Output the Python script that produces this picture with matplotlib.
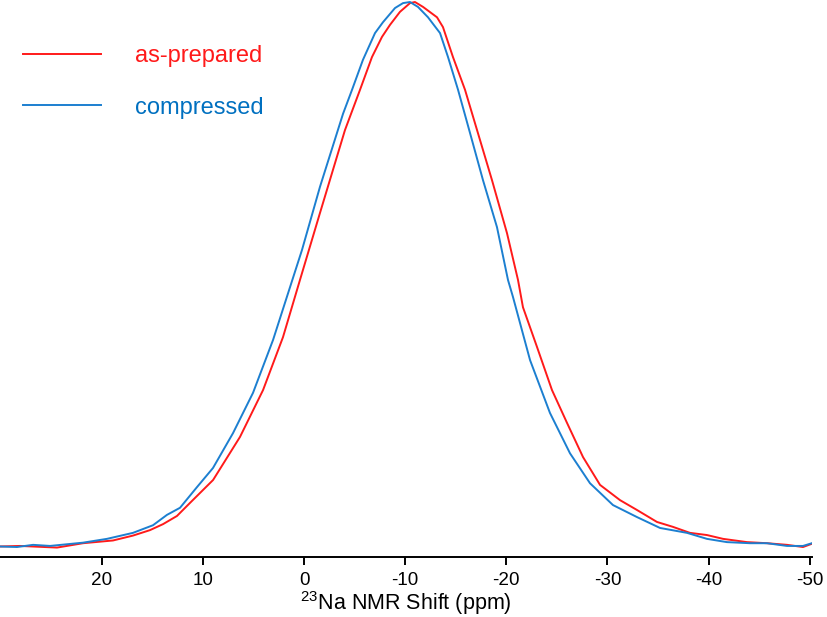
import numpy as np
import matplotlib
matplotlib.use("Agg")
import matplotlib.pyplot as plt

plt.rcParams['font.family'] = ['Liberation Sans', 'DejaVu Sans']
plt.rcParams['mathtext.fontset'] = 'custom'
plt.rcParams['mathtext.rm'] = 'Liberation Sans'
plt.rcParams['mathtext.default'] = 'regular'

# espectros (ppm, intensidade normalizada)
ppm_prep = [30.06, 28.08, 24.42, 21.85, 18.89, 16.91, 15.23, 13.94, 12.56, 11.27,
            8.99, 6.33, 4.05, 2.08, 0.40, -1.58, -4.05, -5.54, -6.72, -7.71,
            -8.50, -9.49, -10.48, -10.97, -11.77, -13.15, -13.74, -14.73, -15.92, -17.40,
            -18.59, -20.07, -21.16, -21.65, -23.04, -24.52, -26.00, -27.59, -29.27, -31.25,
            -32.92, -34.90, -36.48, -38.16, -39.84, -41.43, -43.80, -45.78, -47.76, -49.34,
            -50.22]
int_prep = [0.001, 0.002, -0.001, 0.007, 0.012, 0.021, 0.031, 0.042, 0.057, 0.081,
            0.123, 0.202, 0.288, 0.385, 0.490, 0.613, 0.765, 0.839, 0.899, 0.936,
            0.958, 0.982, 0.998, 1.000, 0.991, 0.972, 0.954, 0.899, 0.839, 0.747,
            0.673, 0.576, 0.490, 0.440, 0.367, 0.288, 0.228, 0.165, 0.114, 0.086,
            0.068, 0.046, 0.037, 0.026, 0.022, 0.015, 0.009, 0.007, 0.004, 0.000,
            0.006]

ppm_comp = [30.06, 28.38, 26.79, 25.11, 21.85, 19.48, 16.91, 14.93, 13.55, 12.26,
            10.58, 9.00, 7.02, 5.04, 3.06, 1.38, 0.20, -1.58, -3.86, -4.75,
            -5.83, -7.02, -7.81, -9.00, -9.79, -10.48, -11.27, -12.26, -13.45, -14.24,
            -15.23, -16.41, -17.70, -19.08, -20.17, -20.66, -22.35, -24.32, -26.30, -28.28,
            -30.55, -32.92, -35.20, -37.87, -39.84, -41.82, -44.10, -45.78, -47.76, -49.34,
            -50.22]
int_comp = [0.001, 0.000, 0.004, 0.002, 0.008, 0.015, 0.026, 0.040, 0.059, 0.072,
            0.110, 0.145, 0.209, 0.283, 0.380, 0.477, 0.545, 0.661, 0.795, 0.839,
            0.894, 0.943, 0.963, 0.989, 0.998, 1.000, 0.991, 0.972, 0.943, 0.899,
            0.839, 0.760, 0.673, 0.587, 0.490, 0.459, 0.343, 0.246, 0.172, 0.117,
            0.077, 0.055, 0.035, 0.026, 0.015, 0.009, 0.007, 0.007, 0.002, 0.002,
            0.007]

xticks = [20, 10, 0, -10, -20, -30, -40, -50]

cor_prep = '#FF1A1A'
cor_comp = '#1C7FD0'

fig = plt.figure(figsize=(8.27, 6.17), dpi=100)
ax = fig.add_axes([0.0, 60 / 617, 812 / 827, 557 / 617])

ax.plot(ppm_prep, int_prep, color=cor_prep, lw=1.4, label='as-prepared')
ax.plot(ppm_comp, int_comp, color=cor_comp, lw=1.4, label='compressed')

ax.set_xlim(30.06, -50.23)
ax.set_ylim(-0.0183, 1.0037)
ax.set_xticks(xticks)
ax.set_xticklabels([str(t) for t in xticks])
ax.set_yticks([])
for lado in ['left', 'top', 'right']:
    ax.spines[lado].set_visible(False)
ax.spines['bottom'].set_linewidth(1.4)
ax.tick_params(axis='x', direction='out', length=6, width=1.4, labelsize=13.6, pad=5)
ax.set_xlabel('$^{23}$Na NMR Shift (ppm)', fontsize=15.5, labelpad=0)

leg = ax.legend(loc='upper left', bbox_to_anchor=(23 / 827, 1 - 45 / 617),
                bbox_transform=fig.transFigure, frameon=False, fontsize=17,
                handlelength=3.3, handletextpad=1.45, labelspacing=1.25,
                borderpad=0, borderaxespad=0, labelcolor=[cor_prep, '#0070C0'])

fig.savefig('out.png', dpi=100)
